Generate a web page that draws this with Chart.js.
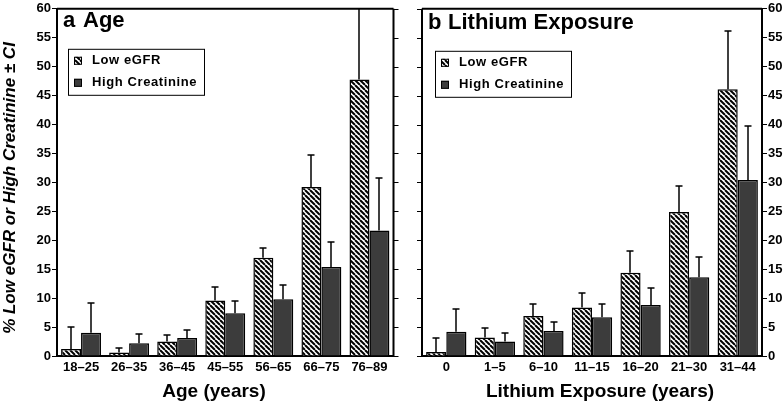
<!DOCTYPE html>
<html><head><meta charset="utf-8">
<script src="https://cdn.jsdelivr.net/npm/chart.js@4/dist/chart.umd.min.js"></script>
<style>
html,body{margin:0;padding:0;background:#fff;}
#wrap{position:relative;width:784px;height:402px;overflow:hidden;}
canvas{position:absolute;top:0;}
</style></head><body>
<div id="wrap">
<canvas id="c1" width="400" height="402" style="left:0;width:400px;height:402px"></canvas>
<canvas id="c2" width="384" height="402" style="left:400px;width:384px;height:402px"></canvas>
</div>
<script>
// ---- data ----
const seriesNames = ['Low eGFR', 'High Creatinine'];
const yTickValues = [0,5,10,15,20,25,30,35,40,45,50,55,60];

const ageCategories = ['18–25','26–35','36–45','45–55','56–65','66–75','76–89'];
const ageLowEgfr      = [1.2, 0.6, 2.5, 9.6, 17.0, 29.2, 47.8];
const ageLowEgfrUpper = [5.0, 1.4, 3.7, 11.9, 18.6, 34.7, 70];
const ageHighCreat      = [4.0, 2.2, 3.1, 7.4, 9.8, 15.4, 21.7];
const ageHighCreatUpper = [9.1, 3.8, 4.5, 9.5, 12.3, 19.7, 30.7];

const lithCategories = ['0','1–5','6–10','11–15','16–20','21–30','31–44'];
const lithLowEgfr      = [0.7, 3.2, 6.9, 8.4, 14.4, 24.9, 46.1];
const lithLowEgfrUpper = [3.1, 4.8, 8.9, 10.9, 18.1, 29.3, 56.2];
const lithHighCreat      = [4.2, 2.5, 4.3, 6.7, 8.8, 13.6, 30.4];
const lithHighCreatUpper = [8.2, 3.9, 5.9, 8.9, 11.8, 17.1, 39.8];

const FONT = '"Liberation Sans", Arial, Helvetica, sans-serif';
const DARK = '#3c3c3c';

function makeHatch(ctx){
  const s = 5, c = document.createElement('canvas');
  c.width = s; c.height = s;
  const g = c.getContext('2d');
  g.fillStyle = '#fff'; g.fillRect(0,0,s,s);
  g.strokeStyle = '#000'; g.lineWidth = 2;
  for (let k=-1;k<=1;k++){ g.beginPath(); g.moveTo(k*s,0); g.lineTo(k*s+s,s); g.stroke(); }
  return ctx.createPattern(c,'repeat');
}

const errorBarPlugin = {
  id:'errbars',
  afterDatasetsDraw(chart){
    const ctx = chart.ctx, y = chart.scales.y, a = chart.chartArea;
    ctx.save();
    ctx.beginPath(); ctx.rect(a.left, a.top, a.right-a.left, a.bottom-a.top); ctx.clip();
    ctx.strokeStyle = '#000'; ctx.lineWidth = 1.5;
    chart.data.datasets.forEach((ds,i)=>{
      const meta = chart.getDatasetMeta(i);
      meta.data.forEach((bar,j)=>{
        const yt = Math.round(y.getPixelForValue(ds.upper[j]));
        const x = Math.round(bar.x);
        ctx.beginPath();
        ctx.moveTo(x, bar.y); ctx.lineTo(x, yt);
        ctx.moveTo(x-3.5, yt); ctx.lineTo(x+3.5, yt);
        ctx.stroke();
      });
    });
    ctx.restore();
  }
};

const panelPlugin = {
  id:'panel',
  afterDraw(chart, args, o){
    const ctx = chart.ctx, a = chart.chartArea, y = chart.scales.y;
    ctx.save();
    ctx.strokeStyle = '#000'; ctx.lineWidth = 2;
    ctx.beginPath();
    ctx.moveTo(a.left, a.top); ctx.lineTo(a.right, a.top);
    const ox = o.side === 'right' ? a.right : a.left;
    ctx.moveTo(ox, a.top); ctx.lineTo(ox, a.bottom);
    ctx.stroke();
    ctx.lineWidth = 1;
    yTickValues.forEach(v=>{
      const py = Math.round(y.getPixelForValue(v)) + 0.5;
      ctx.beginPath();
      if (o.side === 'right'){ ctx.moveTo(a.right, py); ctx.lineTo(a.right+5, py); }
      else { ctx.moveTo(a.left-5, py); ctx.lineTo(a.left, py); }
      ctx.stroke();
    });
    // panel title
    ctx.fillStyle = '#000';
    ctx.textBaseline = 'alphabetic'; ctx.textAlign = 'left';
    ctx.font = 'bold 22px ' + FONT;
    ctx.fillText(o.letter, a.left + 6, a.top + o.titleDy);
    ctx.fillText(o.title, a.left + 26, a.top + o.titleDy);
    // legend
    const lx = a.left + o.legX, ly = a.top + o.legY, lw = 136, lh = 46;
    ctx.lineWidth = 1;
    ctx.strokeRect(lx+0.5, ly+0.5, lw, lh);
    ctx.font = 'bold 13px ' + FONT;
    ctx.letterSpacing = '0.6px';
    ctx.textBaseline = 'middle';
    chart.data.datasets.forEach((ds,i)=>{
      const cy = ly + 12 + i*22;
      ctx.fillStyle = ds.backgroundColor;
      ctx.fillRect(lx+6, cy-4, 8, 8);
      ctx.strokeRect(lx+6.5, cy-3.5, 7, 7);
      ctx.fillStyle = '#000';
      ctx.fillText(ds.label, lx+24, cy);
    });
    ctx.letterSpacing = '0px';
    // x title
    ctx.textAlign = 'center'; ctx.textBaseline = 'alphabetic';
    ctx.font = 'bold 19px ' + FONT;
    ctx.fillText(o.xTitle, o.xTitleX, 397);
    // y title
    if (o.yTitle){
      ctx.translate(10, 188);
      ctx.rotate(-Math.PI/2);
      ctx.textAlign = 'center'; ctx.textBaseline = 'middle';
      ctx.font = 'italic bold 17px ' + FONT;
      ctx.fillText(o.yTitle, 0, 0);
    }
    ctx.restore();
  }
};

function build(id, cats, low, lowUp, high, highUp, side, panel){
  const canvas = document.getElementById(id);
  const ctx = canvas.getContext('2d');
  const hatch = makeHatch(ctx);
  return new Chart(ctx, {
    type:'bar',
    data:{
      labels: cats,
      datasets:[
        {label: seriesNames[0], data: low, upper: lowUp, backgroundColor: hatch, borderColor:'#000', borderWidth:1.5, categoryPercentage:0.83, barPercentage:1},
        {label: seriesNames[1], data: high, upper: highUp, backgroundColor: DARK, borderColor:'#000', borderWidth:1.5, categoryPercentage:0.83, barPercentage:1}
      ]
    },
    options:{
      responsive:false, animation:false, devicePixelRatio:1,
      layout:{padding: side==='left' ? {left:0,right:6.5,top:7,bottom:0} : {left:22,right:0,top:7,bottom:0}},
      plugins:{legend:{display:false}, tooltip:{enabled:false}, panel: panel},
      scales:{
        x:{
          grid:{display:false, drawTicks:false},
          border:{display:true, color:'#000', width:2},
          ticks:{color:'#000', font:{family:FONT, size:13, weight:'bold'}, padding:4, maxRotation:0, autoSkip:false},
          afterFit(s){ s.height = 46; }
        },
        y:{
          position: side,
          min:0, max:60,
          afterBuildTicks(s){ s.ticks = yTickValues.map(v=>({value:v})); },
          grid:{display:true, drawOnChartArea:false, drawTicks:true, tickLength:5, color:'#000', lineWidth:1},
          border:{display:true, color:'#000', width:2},
          ticks:{color:'#000', font:{family:FONT, size:13, weight:'bold'}, padding:1},
          afterFit(s){ s.width = side==='left' ? 57 : 22; }
        }
      }
    },
    plugins:[errorBarPlugin, panelPlugin]
  });
}

build('c1', ageCategories, ageLowEgfr, ageLowEgfrUpper, ageHighCreat, ageHighCreatUpper, 'left',
  {side:'right', letter:'a', title:'Age', titleDy:18, legX:11, legY:40, xTitle:'Age (years)', xTitleX:214,
   yTitle:'% Low eGFR or High Creatinine ± CI'});
build('c2', lithCategories, lithLowEgfr, lithLowEgfrUpper, lithHighCreat, lithHighCreatUpper, 'right',
  {side:'left', letter:'b', title:'Lithium Exposure', titleDy:20, legX:13, legY:42, xTitle:'Lithium Exposure (years)', xTitleX:200});
</script>
</body></html>
